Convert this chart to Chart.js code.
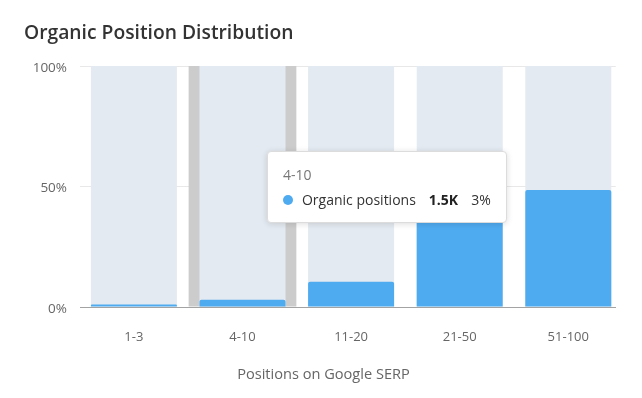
<!DOCTYPE html>
<html><head><meta charset="utf-8">
<script src="https://cdn.jsdelivr.net/npm/chart.js@4"></script>
<style>
html,body{margin:0;padding:0;background:#fff;}
#wrap{position:relative;width:642px;height:398px;overflow:hidden;font-family:"Open Sans","Noto Sans",sans-serif;}
#title{position:absolute;left:24px;top:19px;font-size:19.3px;line-height:26px;font-weight:600;color:#333;white-space:nowrap;}
#xTitle{position:absolute;left:0;width:647px;text-align:center;top:363px;font-size:14.6px;line-height:20px;color:#666;white-space:nowrap;}
#chart{position:absolute;left:0;top:0;}
#tip{position:absolute;display:none;background:#fff;border:1px solid #dcdcdc;border-radius:4px;box-shadow:0 1px 6px rgba(0,0,0,.14);box-sizing:border-box;width:240px;height:72px;font-size:14px;color:#333;white-space:nowrap;}
#tipTitle{position:absolute;left:15px;top:13px;line-height:20px;color:#777;}
#tipRow{position:absolute;left:15px;top:38px;line-height:20px;display:flex;align-items:center;}
#tipDot{width:10px;height:10px;border-radius:50%;margin-right:9px;}
#tipCount{font-weight:700;margin-left:13px;color:#222;}
#tipPct{margin-left:13px;}
</style>
</head><body>
<div id="wrap">
  <canvas id="chart" width="642" height="398"></canvas>
  <div id="title">Organic Position Distribution</div>
  <div id="xTitle"></div>
  <div id="tip"><div id="tipTitle"></div><div id="tipRow"><span id="tipDot"></span><span id="tipName"></span><span id="tipCount"></span><span id="tipPct"></span></div></div>
</div>
<script>
// ---- data ----
const categories = ['1-3', '4-10', '11-20', '21-50', '51-100'];
const organicShare = [1, 3, 10.5, 37, 48.5];          // % of organic positions
const backgroundShare = [100, 100, 100, 100, 100];     // full-height track
const yTickValues = [0, 50, 100];
const yTickLabels = ['0%', '50%', '100%'];
const seriesName = 'Organic positions';
const hoveredIndex = 1;                                // '4-10'
const hoveredCount = '1.5K';
const xAxisTitle = 'Positions on Google SERP';

const BLUE = '#4fabf0';
const FONT = 'Open Sans';
const toPoints = arr => arr.map((v, i) => ({x: i, y: v}));

document.getElementById('xTitle').textContent = xAxisTitle;

const tipPlugin = {
  id: 'staticTip',
  afterRender(chart) {
    const xs = chart.scales.x, ys = chart.scales.y;
    const tip = document.getElementById('tip');
    const cx = xs.getPixelForValue(hoveredIndex);
    tip.style.left = (cx + 24.5) + 'px';
    tip.style.top = (ys.getPixelForValue(100) + 85) + 'px';
    document.getElementById('tipTitle').textContent = categories[hoveredIndex];
    document.getElementById('tipDot').style.background = BLUE;
    document.getElementById('tipName').textContent = seriesName;
    document.getElementById('tipCount').textContent = hoveredCount;
    document.getElementById('tipPct').textContent = Math.round(organicShare[hoveredIndex]) + '%';
    tip.style.display = 'block';
  }
};

new Chart(document.getElementById('chart'), {
  type: 'bar',
  data: {
    datasets: [
      {
        label: seriesName,
        data: toPoints(organicShare),
        backgroundColor: BLUE,
        borderRadius: 2,
        grouped: false,
        categoryPercentage: 1,
        barPercentage: 0.792,
        order: 1
      },
      {
        label: 'track',
        data: toPoints(backgroundShare),
        backgroundColor: '#e4eaf1',
        grouped: false,
        categoryPercentage: 1,
        barPercentage: 0.792,
        order: 2
      },
      {
        label: 'hover',
        data: [{x: hoveredIndex, y: backgroundShare[hoveredIndex]}],
        backgroundColor: '#cccccc',
        grouped: false,
        categoryPercentage: 1,
        barPercentage: 0.992,
        order: 3
      }
    ]
  },
  options: {
    responsive: false,
    animation: false,
    events: [],
    layout: {padding: {left: 0, right: 26.3, top: 66, bottom: 0}},
    plugins: {legend: {display: false}, tooltip: {enabled: false}},
    scales: {
      x: {
        type: 'linear',
        offset: false,
        min: -0.4963,
        max: 4.4365,
        afterFit(s) { s.height = 91; },
        afterBuildTicks(s) { s.ticks = categories.map((c, i) => ({value: i})); },
        grid: {display: false, offset: false},
        border: {display: true, color: '#a3a3a3', width: 1},
        ticks: {
          autoSkip: false,
          maxRotation: 0,
          padding: 14,
          color: '#666',
          font: {family: FONT, size: 13},
          callback: v => categories[v] ?? ''
        }
      },
      y: {
        min: 0,
        max: 100,
        afterFit(s) { s.width = 80; },
        afterBuildTicks(s) { s.ticks = yTickValues.map(v => ({value: v})); },
        grid: {color: '#e8e8e8', lineWidth: 1, drawTicks: false},
        border: {display: false},
        ticks: {
          padding: 13,
          labelOffset: 2,
          color: '#666',
          font: {family: FONT, size: 13.5},
          callback: v => yTickLabels[yTickValues.indexOf(v)]
        }
      }
    }
  },
  plugins: [tipPlugin]
});
</script>
</body></html>
